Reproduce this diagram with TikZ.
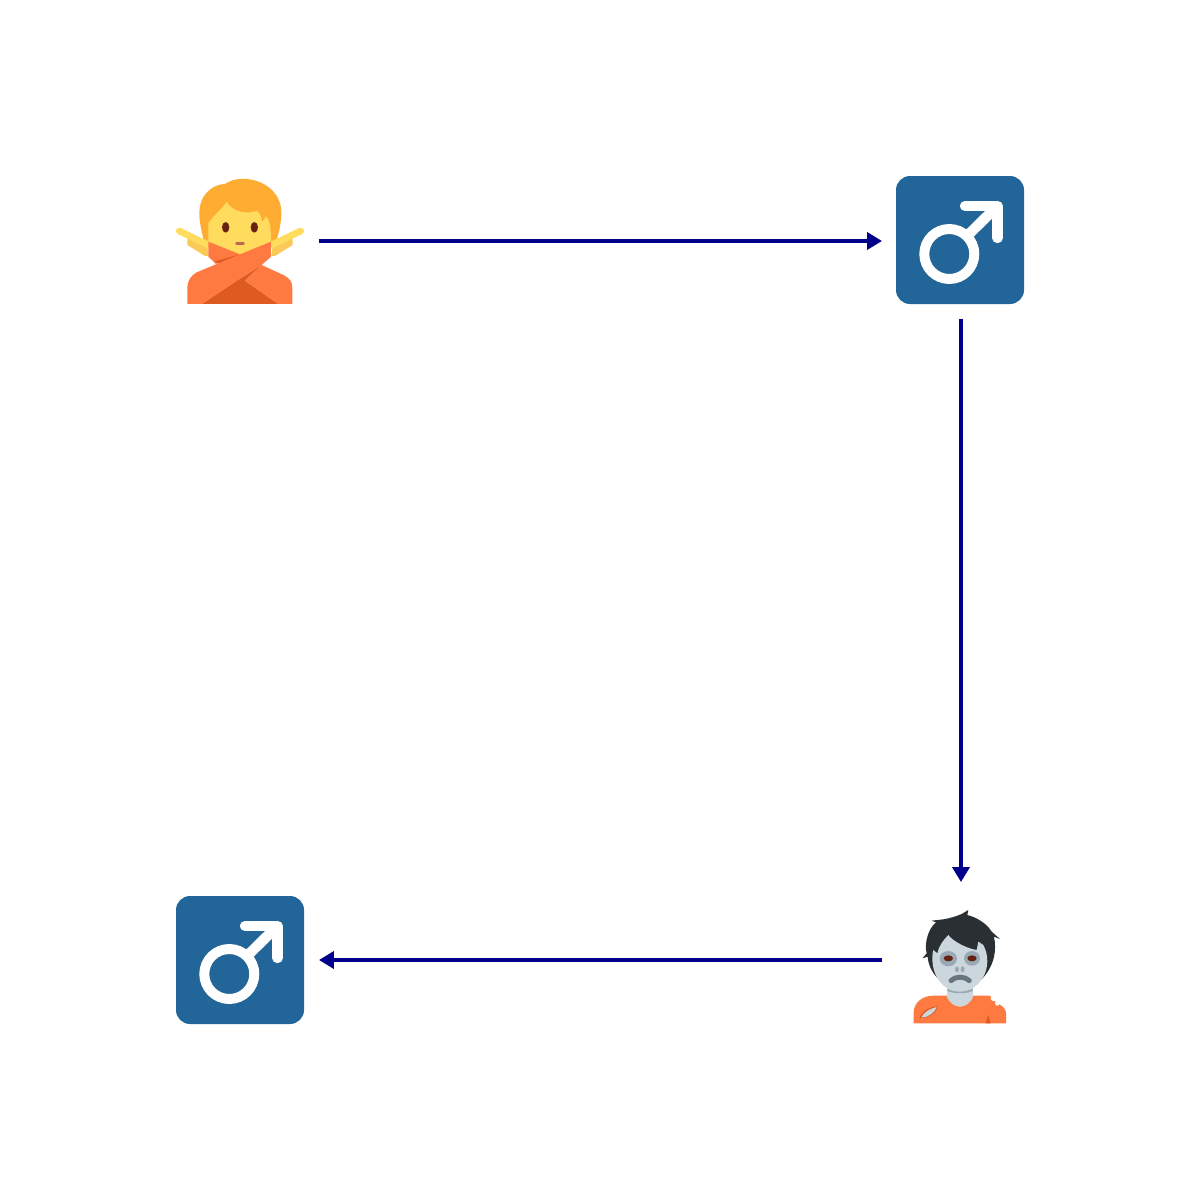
\documentclass[tikz,border=0pt]{standalone}
\usetikzlibrary{arrows.meta}

\definecolor{linkblue}{HTML}{00008B}
\definecolor{signblue}{HTML}{226699}
\definecolor{hairgold}{HTML}{FFAC33}
\definecolor{skinyellow}{HTML}{FFDC5D}
\definecolor{skinshade}{HTML}{F9CA55}
\definecolor{eyebrown}{HTML}{662113}
\definecolor{mouthbrown}{HTML}{C1694F}
\definecolor{shirtorange}{HTML}{FF7A40}
\definecolor{shirtdark}{HTML}{DD5A21}
\definecolor{hairdark}{HTML}{292F33}
\definecolor{zombieskin}{HTML}{CCD6DD}
\definecolor{zombieshade}{HTML}{99AAB5}
\definecolor{zombiemouth}{HTML}{66757F}

% maennliches Zeichen, #1 = Mitte
\newcommand{\malesign}[1]{
    \begin{scope}[shift={#1}]
        \fill[signblue, rounded corners=0.28cm] (-64, -64) rectangle (64, 64);
        \draw[white, line width=5.67pt] (-10.7, 14) circle [radius=25];
        \draw[white, line width=5.9pt] (7, -4) -- (37.5, -34);
        \draw[white, line width=5.9pt, line cap=round, line join=round] (5, -34) -- (37.5, -34) -- (37.5, -2);
    \end{scope}
}

\begin{document}
\begin{tikzpicture}[
    x=0.02cm, y=-0.02cm,
    place/.style={minimum size=2.56cm, inner sep=0pt, outer sep=0.3cm},
    link/.style={draw=linkblue, line width=2.27pt, -{Triangle[length=0.3cm, width=0.34cm]}},
    zoomed/.style={x=0.02cm/3, y=-0.02cm/3}]
    \useasboundingbox (0, 0) rectangle (1200, 1200);

    % Plaetze
    \node[place] (person) at (240, 241) {};
    \node[place] (maleone) at (961, 241) {};
    \node[place] (zombie) at (961, 960) {};
    \node[place] (maletwo) at (240, 960) {};

    % Person mit gekreuzten Armen
    \begin{scope}[shift={(160, 160)}, zoomed]
        \fill[hairgold] (132, 245) .. controls (122, 200) and (112, 165) .. (122, 130)
                        .. controls (132, 95) and (165, 72) .. (195, 72)
                        .. controls (215, 58) and (240, 55) .. (260, 57)
                        .. controls (320, 62) and (368, 105) .. (364, 165)
                        .. controls (362, 200) and (355, 225) .. (348, 245) -- cycle;
        \fill[skinshade] (82, 235) -- (140, 240) -- (146, 288) -- (135, 288) -- (82, 255) -- cycle;
        \fill[skinshade] (398, 235) -- (340, 240) -- (334, 288) -- (345, 288) -- (398, 255) -- cycle;
        \draw[skinyellow, line width=3.8pt, line cap=round] (58, 213) -- (145, 255);
        \draw[skinyellow, line width=3.8pt, line cap=round] (422, 213) -- (335, 255);
        \fill[skinyellow] (145, 250) -- (145, 190) .. controls (160, 165) and (185, 150) .. (200, 125)
                          .. controls (215, 155) and (260, 165) .. (290, 152)
                          .. controls (300, 160) and (305, 170) .. (306, 185)
                          .. controls (312, 180) and (316, 175) .. (318, 168)
                          .. controls (328, 180) and (333, 195) .. (333, 250)
                          -- (240, 290) -- cycle;
        \fill[eyebrown] (197, 202) ellipse [x radius=11, y radius=16];
        \fill[eyebrown] (283, 202) ellipse [x radius=11, y radius=16];
        \draw[mouthbrown, line width=1.7pt, line cap=round] (230, 250) -- (250, 250);
        \fill[shirtdark] (125, 432) -- (230, 362) -- (305, 315) -- (255, 362) -- (355, 432) -- cycle;
        \fill[shirtorange] (255, 362) -- (305, 315) -- (370, 345)
                           .. controls (390, 355) and (397, 365) .. (397, 385)
                           -- (397, 432) -- (355, 432) -- cycle;
        \fill[shirtorange] (145, 245) -- (240, 283) -- (168, 312) -- (145, 290) -- cycle;
        \fill[shirtdark] (165, 304) -- (240, 283) -- (178, 312) -- cycle;
        \fill[shirtorange] (82, 432) -- (82, 385) .. controls (82, 360) and (95, 345) .. (110, 337)
                           -- (240, 283) -- (333, 245) -- (333, 290) -- (305, 315)
                           -- (230, 362) -- (125, 432) -- cycle;
    \end{scope}

    % Zombie
    \begin{scope}[shift={(880, 890)}, zoomed]
        \fill[hairdark] (127, 205) -- (140, 190) .. controls (132, 160) and (145, 115) .. (168, 97)
                        -- (155, 92) -- (190, 88) .. controls (210, 85) and (230, 78) .. (245, 72)
                        -- (265, 60) -- (262, 75) .. controls (290, 82) and (320, 100) .. (335, 125)
                        -- (360, 147) -- (342, 140) .. controls (350, 180) and (345, 225) .. (305, 268)
                        -- (170, 262) .. controls (155, 245) and (145, 225) .. (143, 200) -- cycle;
        \fill[zombieskin] (200, 295) rectangle (280, 355);
        \fill[shirtorange] (101, 400) -- (101, 365) .. controls (103, 335) and (130, 317) .. (160, 317)
                           -- (200, 317) .. controls (205, 340) and (225, 350) .. (240, 350)
                           .. controls (255, 350) and (275, 340) .. (280, 317)
                           -- (330, 317) -- (345, 335) .. controls (360, 345) and (378, 350) .. (378, 372)
                           -- (378, 400) -- cycle;
        \fill[white] (340, 325) circle [radius=8];
        \fill[white] (352, 340) circle [radius=7];
        \fill[shirtdark] (317, 400) -- (325, 375) -- (332, 400) -- cycle;
        \fill[shirtdark] (118, 385) .. controls (125, 365) and (145, 352) .. (173, 348)
                         .. controls (170, 370) and (145, 385) .. (118, 385) -- cycle;
        \fill[zombieskin] (124, 383) .. controls (130, 368) and (148, 356) .. (170, 351)
                          .. controls (165, 368) and (145, 382) .. (124, 383) -- cycle;
        \fill[zombieshade] (203, 296) .. controls (215, 305) and (265, 305) .. (278, 296)
                           -- (279, 302) .. controls (265, 312) and (215, 312) .. (202, 302) -- cycle;
        \fill[zombieskin] (157, 205) .. controls (157, 195) and (158, 185) .. (160, 180)
                          -- (172, 190) .. controls (178, 165) and (190, 150) .. (205, 135)
                          .. controls (220, 155) and (260, 175) .. (290, 180)
                          -- (295, 155) -- (310, 165) .. controls (318, 180) and (322, 195) .. (322, 215)
                          .. controls (320, 270) and (280, 305) .. (240, 305)
                          .. controls (190, 305) and (157, 260) .. (157, 205) -- cycle;
        \fill[zombieshade] (205, 206) ellipse [x radius=26, y radius=23];
        \fill[zombieshade] (276, 205) ellipse [x radius=24, y radius=22];
        \fill[eyebrown] (205, 205) ellipse [x radius=14, y radius=9];
        \fill[eyebrown] (276, 205) ellipse [x radius=14, y radius=9];
        \fill[zombieshade] (231, 238) ellipse [x radius=6, y radius=9];
        \fill[zombieshade] (248, 238) ellipse [x radius=6, y radius=9];
        \draw[zombiemouth, line width=2.8pt, line cap=round] (213, 272) .. controls (225, 258) and (255, 258) .. (268, 272);
    \end{scope}

    % Zeichen
    \malesign{(960, 240)}
    \malesign{(240, 960)}

    % Verbindungen
    \draw[link] (person) -- (maleone);
    \draw[link, shorten <=-0.02cm, shorten >=-0.02cm] (maleone) -- (zombie);
    \draw[link] (zombie) -- (maletwo);
\end{tikzpicture}
\end{document}
